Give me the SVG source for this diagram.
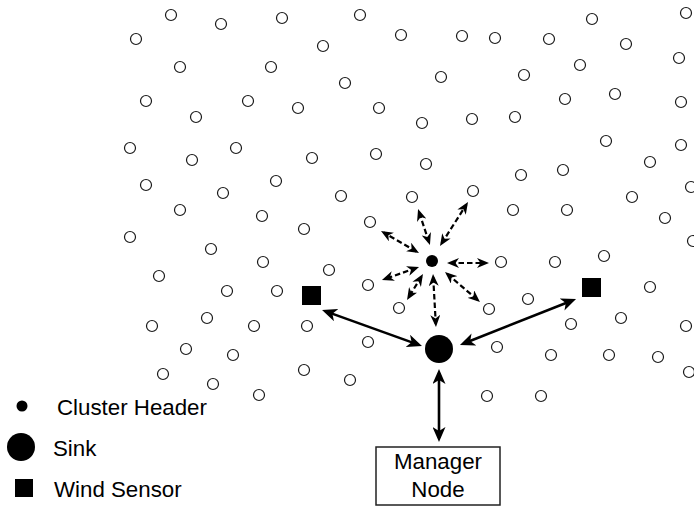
<svg xmlns="http://www.w3.org/2000/svg" width="694" height="508" viewBox="0 0 694 508">
<style>
.s{fill:#fff;stroke:#1a1a1a;stroke-width:1.2}
.blk{fill:#000}
.d{fill:none;stroke:#000;stroke-width:2.2;stroke-dasharray:5.5 3}
.sl{fill:none;stroke:#000;stroke-width:2.6}
.t{font-family:"Liberation Sans",Arial,sans-serif;font-size:22.3px;fill:#000}
</style>
<defs>
<marker id="ad" viewBox="0 0 12 10" refX="9" refY="5" markerWidth="12" markerHeight="10" markerUnits="userSpaceOnUse" orient="auto-start-reverse">
<path d="M0,0 L12,5 L0,10 L3.5,5 Z" fill="#000"/>
</marker>
<marker id="as" viewBox="0 0 15 13" refX="11" refY="6.5" markerWidth="15" markerHeight="13" markerUnits="userSpaceOnUse" orient="auto-start-reverse">
<path d="M0,0 L15,6.5 L0,13 L4,6.5 Z" fill="#000"/>
</marker>
</defs>
<rect width="694" height="508" fill="#fff"/>
<g id="sensors">
<circle class="s" r="5.5" cx="171" cy="15"/><circle class="s" r="5.5" cx="221" cy="24"/><circle class="s" r="5.5" cx="282" cy="18"/><circle class="s" r="5.5" cx="136" cy="39"/><circle class="s" r="5.5" cx="180" cy="67"/><circle class="s" r="5.5" cx="271" cy="67"/><circle class="s" r="5.5" cx="146" cy="101"/><circle class="s" r="5.5" cx="196" cy="117"/><circle class="s" r="5.5" cx="248" cy="101"/><circle class="s" r="5.5" cx="298" cy="108"/>
<circle class="s" r="5.5" cx="360" cy="15"/><circle class="s" r="5.5" cx="401" cy="35"/><circle class="s" r="5.5" cx="462" cy="36"/><circle class="s" r="5.5" cx="495" cy="38"/><circle class="s" r="5.5" cx="323" cy="46"/><circle class="s" r="5.5" cx="345" cy="83"/><circle class="s" r="5.5" cx="441" cy="77"/><circle class="s" r="5.5" cx="379" cy="108"/><circle class="s" r="5.5" cx="422" cy="123"/><circle class="s" r="5.5" cx="472" cy="119"/>
<circle class="s" r="5.5" cx="592" cy="19"/><circle class="s" r="5.5" cx="686" cy="13"/><circle class="s" r="5.5" cx="549" cy="39"/><circle class="s" r="5.5" cx="626" cy="44"/><circle class="s" r="5.5" cx="580" cy="65"/><circle class="s" r="5.5" cx="679" cy="58"/><circle class="s" r="5.5" cx="524" cy="75"/><circle class="s" r="5.5" cx="565" cy="99"/><circle class="s" r="5.5" cx="615" cy="94"/><circle class="s" r="5.5" cx="681" cy="102"/><circle class="s" r="5.5" cx="515" cy="117"/>
<circle class="s" r="5.5" cx="130" cy="148"/><circle class="s" r="5.5" cx="236" cy="148"/><circle class="s" r="5.5" cx="192" cy="160"/><circle class="s" r="5.5" cx="312" cy="158"/><circle class="s" r="5.5" cx="146" cy="185"/><circle class="s" r="5.5" cx="276" cy="181"/><circle class="s" r="5.5" cx="223" cy="193"/><circle class="s" r="5.5" cx="180" cy="210"/><circle class="s" r="5.5" cx="262" cy="216"/><circle class="s" r="5.5" cx="130" cy="237"/><circle class="s" r="5.5" cx="304" cy="229"/><circle class="s" r="5.5" cx="211" cy="249"/>
<circle class="s" r="5.5" cx="376" cy="154"/><circle class="s" r="5.5" cx="426" cy="164"/><circle class="s" r="5.5" cx="341" cy="196"/><circle class="s" r="5.5" cx="412" cy="197"/><circle class="s" r="5.5" cx="473" cy="191"/><circle class="s" r="5.5" cx="370" cy="222"/>
<circle class="s" r="5.5" cx="606" cy="141"/><circle class="s" r="5.5" cx="681" cy="145"/><circle class="s" r="5.5" cx="650" cy="162"/><circle class="s" r="5.5" cx="521" cy="175"/><circle class="s" r="5.5" cx="563" cy="170"/><circle class="s" r="5.5" cx="691" cy="187"/><circle class="s" r="5.5" cx="632" cy="197"/><circle class="s" r="5.5" cx="513" cy="210"/><circle class="s" r="5.5" cx="567" cy="210"/><circle class="s" r="5.5" cx="665" cy="218"/><circle class="s" r="5.5" cx="693" cy="241"/>
<circle class="s" r="5.5" cx="263" cy="262"/><circle class="s" r="5.5" cx="159" cy="276"/><circle class="s" r="5.5" cx="227" cy="291"/><circle class="s" r="5.5" cx="277" cy="291"/><circle class="s" r="5.5" cx="152" cy="326"/><circle class="s" r="5.5" cx="207" cy="318"/><circle class="s" r="5.5" cx="254" cy="326"/><circle class="s" r="5.5" cx="307" cy="326"/><circle class="s" r="5.5" cx="186" cy="349"/><circle class="s" r="5.5" cx="233" cy="355"/><circle class="s" r="5.5" cx="163" cy="374"/><circle class="s" r="5.5" cx="213" cy="384"/><circle class="s" r="5.5" cx="304" cy="370"/><circle class="s" r="5.5" cx="259" cy="395"/>
<circle class="s" r="5.5" cx="329" cy="270"/><circle class="s" r="5.5" cx="368" cy="285"/><circle class="s" r="5.5" cx="399" cy="308"/><circle class="s" r="5.5" cx="501" cy="262"/><circle class="s" r="5.5" cx="489" cy="309"/><circle class="s" r="5.5" cx="528" cy="299"/><circle class="s" r="5.5" cx="368" cy="342"/><circle class="s" r="5.5" cx="497" cy="347"/><circle class="s" r="5.5" cx="350" cy="380"/><circle class="s" r="5.5" cx="487" cy="396"/>
<circle class="s" r="5.5" cx="555" cy="262"/><circle class="s" r="5.5" cx="604" cy="256"/><circle class="s" r="5.5" cx="650" cy="287"/><circle class="s" r="5.5" cx="621" cy="318"/><circle class="s" r="5.5" cx="571" cy="324"/><circle class="s" r="5.5" cx="686" cy="326"/><circle class="s" r="5.5" cx="551" cy="355"/><circle class="s" r="5.5" cx="609" cy="355"/><circle class="s" r="5.5" cx="658" cy="357"/><circle class="s" r="5.5" cx="689" cy="372"/><circle class="s" r="5.5" cx="541" cy="396"/>
</g>
<g id="connectors">
<line class="d" x1="429" y1="242.2" x2="419" y2="211.8" marker-start="url(#ad)" marker-end="url(#ad)"/>
<line class="d" x1="441.6" y1="243.5" x2="466.4" y2="204.5" marker-start="url(#ad)" marker-end="url(#ad)"/>
<line class="d" x1="416.4" y1="251.5" x2="383.6" y2="232.5" marker-start="url(#ad)" marker-end="url(#ad)"/>
<line class="d" x1="450" y1="263" x2="486" y2="263" marker-start="url(#ad)" marker-end="url(#ad)"/>
<line class="d" x1="416.2" y1="268" x2="384.8" y2="279" marker-start="url(#ad)" marker-end="url(#ad)"/>
<line class="d" x1="421.4" y1="276.6" x2="408.6" y2="297.4" marker-start="url(#ad)" marker-end="url(#ad)"/>
<line class="d" x1="433.2" y1="277" x2="435.8" y2="324" marker-start="url(#ad)" marker-end="url(#ad)"/>
<line class="d" x1="447.3" y1="274" x2="477.7" y2="300" marker-start="url(#ad)" marker-end="url(#ad)"/>
<line class="sl" x1="325.8" y1="311.4" x2="418.2" y2="344.6" marker-start="url(#as)" marker-end="url(#as)"/>
<line class="sl" x1="463.7" y1="343.5" x2="572.3" y2="300.5" marker-start="url(#as)" marker-end="url(#as)"/>
<line class="sl" x1="439" y1="373" x2="439" y2="438" marker-start="url(#as)" marker-end="url(#as)"/>
</g>
<g id="cluster-header"><circle class="blk" cx="432" cy="261" r="6"/></g>
<g id="sink"><circle class="blk" cx="439" cy="349" r="14"/></g>
<g id="wind-sensor-left"><rect class="blk" x="302" y="286" width="19" height="19"/></g>
<g id="wind-sensor-right"><rect class="blk" x="582" y="278" width="19" height="19"/></g>
<g id="manager-node">
<rect x="376" y="447" width="124" height="58" fill="#fff" stroke="#222" stroke-width="1.5"/>
<text class="t" x="438" y="469" text-anchor="middle">Manager</text>
<text class="t" x="438" y="497" text-anchor="middle">Node</text>
</g>
<g id="legend">
<circle class="blk" cx="22" cy="406" r="5.5"/>
<text class="t" x="57" y="415">Cluster Header</text>
<circle class="blk" cx="21" cy="447" r="14"/>
<text class="t" x="53" y="456">Sink</text>
<rect class="blk" x="15" y="479" width="18" height="18"/>
<text class="t" x="54" y="497">Wind Sensor</text>
</g>
</svg>
